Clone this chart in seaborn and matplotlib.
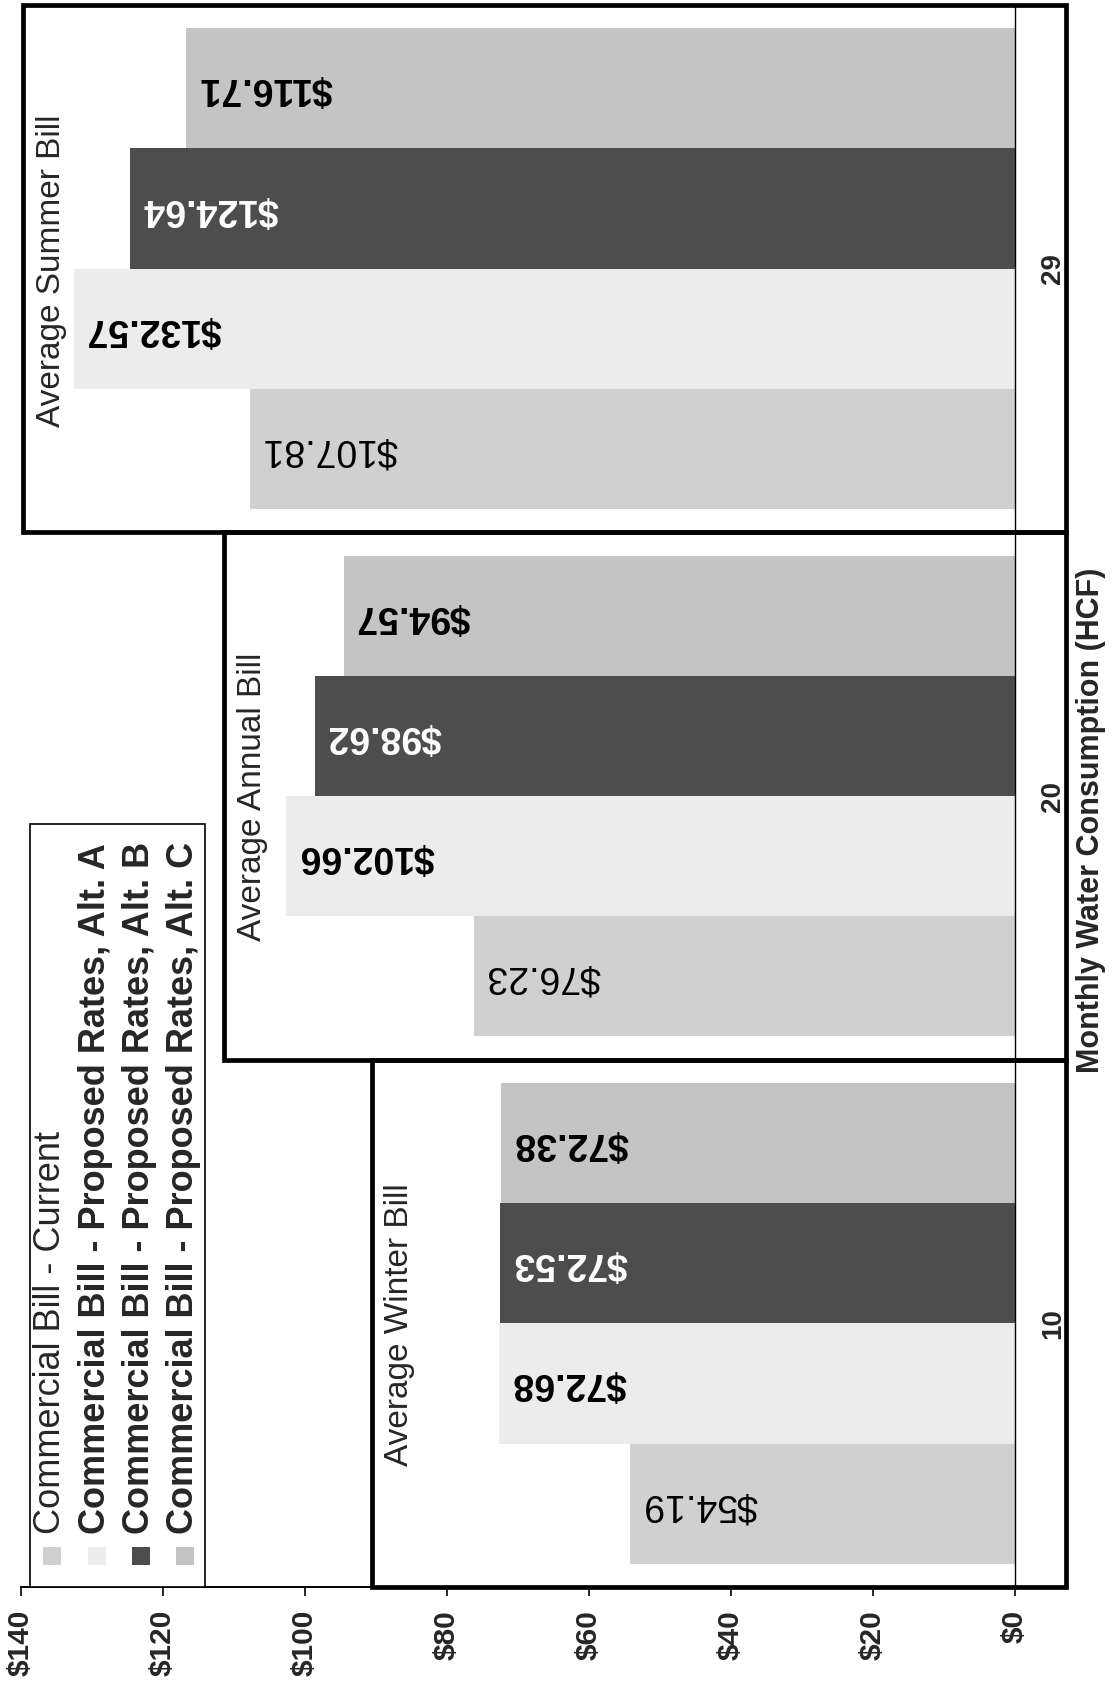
import numpy as np
import pandas as pd
import matplotlib
matplotlib.use("Agg")
import matplotlib.pyplot as plt
from matplotlib.patches import Rectangle
import seaborn as sns

# ---- data -------------------------------------------------------------
consumption = ["10", "20", "29"]                      # HCF per month
series_names = [
    "Commercial Bill - Current",
    "Commercial Bill - Proposed Rates, Alt. A",
    "Commercial Bill - Proposed Rates, Alt. B",
    "Commercial Bill - Proposed Rates, Alt. C",
]
bill_current = [54.19, 76.23, 107.81]
bill_alt_a = [72.68, 102.66, 132.57]
bill_alt_b = [72.53, 98.62, 124.64]
bill_alt_c = [72.38, 94.57, 116.71]
box_titles = ["Average Winter Bill", "Average Annual Bill", "Average Summer Bill"]
value_ticks = [0, 20, 40, 60, 80, 100, 120, 140]
value_tick_labels = ["$0", "$20", "$40", "$60", "$80", "$100", "$120", "$140"]
consumption_title = "Monthly Water Consumption (HCF)"

# ---- styling ----------------------------------------------------------
series_colors = ["#d0d0d0", "#ececec", "#4d4d4d", "#c4c4c4"]
label_weight = ["normal", "bold", "bold", "bold"]
label_color = ["black", "black", "white", "black"]
box_left = [90.6, 111.4, 139.7]     # left edge of each group frame (value units)
box_right = -7.2                     # frames run past the $0 line
title_offset = [0.271, 0.275, 0.30]  # title start, below each category centre

sns.set_style("white")
plt.rcParams["font.family"] = ["Liberation Sans", "DejaVu Sans"]

df = pd.DataFrame({
    "consumption": consumption * 4,
    "series": np.repeat(series_names, len(consumption)),
    "bill": bill_current + bill_alt_a + bill_alt_b + bill_alt_c,
})

W, H = 1119, 1686
fig = plt.figure(figsize=(W / 100, H / 100), dpi=100)


def fx(px):
    return px / W


def fy(py):
    return 1 - py / H


# plot area: value axis runs right ($0) to left ($140)
ax = fig.add_axes([fx(21), fy(1587), (1015 - 21) / W, (1587 - 5) / H])

order = consumption[::-1]
hue_order = series_names[::-1]
palette = dict(zip(series_names, series_colors))

sns.barplot(data=df, x="bill", y="consumption", hue="series",
            order=order, hue_order=hue_order, orient="h",
            palette=palette, width=0.912, saturation=1,
            linewidth=0, legend=False, ax=ax)

ax.set_xlim(140, 0)
ax.set_ylim(2.5, -0.5)

# value axis along the bottom
ax.set_xticks(value_ticks)
ax.set_xticklabels(value_tick_labels, rotation=90, fontsize=21.5,
                   fontweight="bold")
ax.tick_params(axis="x", direction="out", length=6.5, width=1.2,
               pad=10, bottom=True, color="black")
ax.set_xlabel("")

# consumption categories on the right
ax.yaxis.tick_right()
ax.tick_params(axis="y", length=0, pad=18, left=False, right=False,
               labelleft=False, labelright=True)
for lab in ax.get_yticklabels():
    lab.set_rotation(90)
    lab.set_fontsize(20)
    lab.set_fontweight("bold")
    lab.set_va("center")
ax.set_ylabel("")

for side in ("top", "left"):
    ax.spines[side].set_visible(False)
ax.spines["right"].set_linewidth(1.0)
ax.spines["right"].set_color("black")
ax.spines["bottom"].set_linewidth(1.4)
ax.spines["bottom"].set_color("black")
ax.grid(False)

# value labels at the bar ends
for i, cont in enumerate(ax.containers):
    k = series_names.index(hue_order[i])
    for rect, v in zip(cont, cont.datavalues):
        yc = rect.get_y() + rect.get_height() / 2
        ax.annotate(f"${v:.2f}", xy=(v, yc), xytext=(9, 0),
                    textcoords="offset points", rotation=180,
                    ha="left", va="center", fontsize=27,
                    fontweight=label_weight[k], color=label_color[k],
                    zorder=6)

# group frames with their titles
for cat, left, title, off in zip(consumption, box_left, box_titles,
                                 title_offset):
    yi = order.index(cat)
    ax.add_patch(Rectangle((box_right, yi - 0.5), left - box_right, 1.0,
                           fill=False, lw=3.4, ec="black",
                           clip_on=False, zorder=7))
    ax.text(left - 3.95, yi + off, title, rotation=90,
            ha="center", va="bottom", fontsize=24, zorder=7)

# axis title on the right
fig.text(fx(1091), fy(820), consumption_title, rotation=90,
         ha="center", va="center", fontsize=22, fontweight="bold")

# legend box, read bottom to top
fig.patches.append(Rectangle((fx(30), fy(1587)), 175 / W, (1587 - 824) / H,
                             transform=fig.transFigure, fill=True,
                             fc="white", ec="black", lw=1.2, zorder=8))
entry_x = [51, 96, 140, 184]
for name, color, xpx in zip(series_names, series_colors, entry_x):
    weight = "normal" if name.endswith("Current") else "bold"
    fig.patches.append(Rectangle((fx(xpx - 8), fy(1565)), 18 / W, 18 / H,
                                 transform=fig.transFigure, fc=color,
                                 ec="none", zorder=9))
    fig.text(fx(xpx), fy(1534), name, rotation=90, ha="center",
             va="bottom", fontsize=26, fontweight=weight, zorder=9)

fig.savefig("out.png", dpi=100)
